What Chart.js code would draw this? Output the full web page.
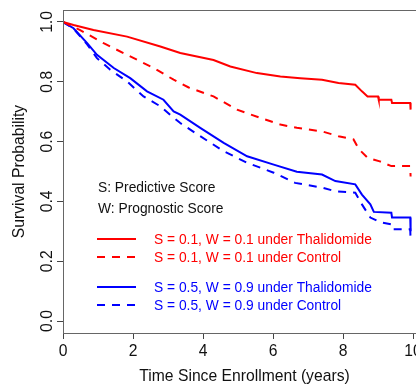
<!DOCTYPE html>
<html>
<head>
<meta charset="utf-8">
<script src="https://cdn.jsdelivr.net/npm/chart.js@4/dist/chart.umd.min.js"></script>
<style>
  html, body { margin: 0; padding: 0; background: #fff; overflow: hidden; }
  #wrap { width: 426px; height: 386px; position: relative; }
</style>
</head>
<body>
<div id="wrap"><canvas id="km"></canvas></div>
<script>
// Kaplan-Meier estimates (time in years, survival probability)
const lowThalTime = [0, 0.3, 0.87, 1.83, 2.78, 3.35, 4.3, 4.78, 5.54, 6.21, 6.78, 7.4, 7.87, 8.35, 8.54, 8.7, 9.0, 9.02, 9.38, 9.4, 9.92, 9.93];
const lowThalSurv = [1, 0.99, 0.973, 0.951, 0.918, 0.896, 0.873, 0.851, 0.829, 0.818, 0.812, 0.807, 0.796, 0.79, 0.768, 0.751, 0.751, 0.74, 0.74, 0.729, 0.729, 0.707];

const lowCtrlTime = [0, 0.49, 1.16, 1.83, 2.59, 3.16, 3.59, 4.3, 4.97, 5.64, 6.21, 6.68, 7.4, 7.87, 8.3, 8.45, 8.7, 9.05, 9.38, 9.92, 9.93];
const lowCtrlSurv = [1, 0.973, 0.929, 0.89, 0.846, 0.807, 0.781, 0.751, 0.707, 0.679, 0.657, 0.646, 0.634, 0.618, 0.607, 0.575, 0.546, 0.534, 0.518, 0.518, 0.483];

const highThalTime = [0, 0.3, 0.69, 0.97, 1.45, 1.92, 2.4, 2.87, 3.16, 3.35, 3.92, 4.59, 5.26, 6.02, 6.68, 7.4, 7.78, 8.35, 8.54, 8.78, 8.88, 9.38, 9.4, 9.92, 9.93];
const highThalSurv = [1, 0.979, 0.929, 0.89, 0.846, 0.812, 0.768, 0.74, 0.701, 0.69, 0.646, 0.596, 0.551, 0.523, 0.499, 0.49, 0.468, 0.457, 0.423, 0.39, 0.365, 0.362, 0.346, 0.346, 0.3];

const highCtrlTime = [0, 0.3, 0.69, 0.97, 1.35, 1.83, 2.3, 2.78, 3.06, 3.35, 3.92, 4.59, 5.26, 6.02, 6.63, 7.4, 7.78, 8.35, 8.54, 8.78, 9.07, 9.38, 9.4, 9.92, 9.93];
const highCtrlSurv = [1, 0.978, 0.925, 0.879, 0.84, 0.801, 0.751, 0.718, 0.69, 0.662, 0.618, 0.568, 0.529, 0.496, 0.462, 0.446, 0.434, 0.429, 0.39, 0.346, 0.33, 0.323, 0.307, 0.307, 0.268];

const xTicks = [0, 2, 4, 6, 8, 10];
const yTicks = [0, 0.2, 0.4, 0.6, 0.8, 1.0];

const seriesLabels = [
  "S = 0.1, W = 0.1 under Thalidomide",
  "S = 0.1, W = 0.1 under Control",
  "S = 0.5, W = 0.9 under Thalidomide",
  "S = 0.5, W = 0.9 under Control"
];
const noteLines = ["S: Predictive Score", "W: Prognostic Score"];

const FONT = '"Liberation Sans", Arial, sans-serif';
const DASH = [8, 7];

function toPoints(ts, ss) {
  return ts.map(function (t, i) { return { x: t, y: ss[i] }; });
}

function makeSet(label, ts, ss, color, dashed) {
  return {
    label: label,
    data: toPoints(ts, ss),
    borderColor: color,
    borderWidth: 2,
    borderDash: dashed ? DASH : [],
    pointRadius: 0,
    tension: 0,
    fill: false
  };
}

// frame, rotated y tick labels, notes and the in-plot legend
const extras = {
  id: "extras",
  afterDraw: function (chart) {
    const ctx = chart.ctx;
    const a = chart.chartArea;
    const ys = chart.scales.y;
    ctx.save();

    ctx.strokeStyle = "#666";
    ctx.lineWidth = 1;
    ctx.strokeRect(a.left + 0.5, a.top + 0.5, a.right - a.left, a.bottom - a.top);

    ctx.fillStyle = "#111";
    ctx.font = "15.7px " + FONT;
    ctx.textAlign = "center";
    ctx.textBaseline = "alphabetic";
    yTicks.forEach(function (v) {
      ctx.save();
      ctx.translate(a.left - 11.3, ys.getPixelForValue(v));
      ctx.rotate(-Math.PI / 2);
      ctx.fillText(v.toFixed(1), 0, 0);
      ctx.restore();
    });

    ctx.font = "13.8px " + FONT;
    ctx.textAlign = "left";
    ctx.textBaseline = "middle";
    ctx.fillStyle = "#111";
    ctx.fillText(noteLines[0], a.left + 35, a.top + 178);
    ctx.fillText(noteLines[1], a.left + 35, a.top + 199);

    const rows = [229, 247, 277, 295];
    chart.data.datasets.forEach(function (ds, i) {
      const y = a.top + rows[i];
      ctx.strokeStyle = ds.borderColor;
      ctx.lineWidth = 2;
      ctx.setLineDash(ds.borderDash);
      ctx.beginPath();
      ctx.moveTo(a.left + 34, y);
      ctx.lineTo(a.left + 73, y);
      ctx.stroke();
      ctx.setLineDash([]);
      ctx.fillStyle = ds.borderColor;
      ctx.fillText(ds.label, a.left + 91, y + 1);
    });

    ctx.restore();
  }
};

new Chart(document.getElementById("km"), {
  type: "line",
  data: {
    datasets: [
      makeSet(seriesLabels[0], lowThalTime, lowThalSurv, "#ff0000", false),
      makeSet(seriesLabels[1], lowCtrlTime, lowCtrlSurv, "#ff0000", true),
      makeSet(seriesLabels[2], highThalTime, highThalSurv, "#0000ff", false),
      makeSet(seriesLabels[3], highCtrlTime, highCtrlSurv, "#0000ff", true)
    ]
  },
  options: {
    responsive: true,
    maintainAspectRatio: false,
    animation: false,
    layout: { padding: { top: 10, right: 0, bottom: 0, left: 0 } },
    plugins: { legend: { display: false }, tooltip: { enabled: false } },
    scales: {
      x: {
        type: "linear",
        min: 0,
        max: 10.37,
        afterBuildTicks: function (scale) {
          scale.ticks = xTicks.map(function (v) { return { value: v }; });
        },
        ticks: { color: "#111", font: { family: FONT, size: 15.7 }, padding: 3, maxRotation: 0 },
        grid: { display: true, drawOnChartArea: false, drawTicks: true, tickLength: 6, color: "#444" },
        border: { display: true, color: "#444" },
        title: {
          display: true,
          text: "Time Since Enrollment (years)",
          color: "#111",
          font: { family: FONT, size: 15.7 },
          padding: { top: 0, bottom: 0 }
        },
        afterFit: function (scale) { scale.height = 53; }
      },
      y: {
        type: "linear",
        min: -0.04,
        max: 1.04,
        afterBuildTicks: function (scale) {
          scale.ticks = yTicks.map(function (v) { return { value: v }; });
        },
        ticks: { display: false },
        grid: { display: true, drawOnChartArea: false, drawTicks: true, tickLength: 6, color: "#444" },
        border: { display: true, color: "#444" },
        title: {
          display: true,
          text: "Survival Probability",
          color: "#111",
          font: { family: FONT, size: 15.7 },
          padding: { top: 10.5, bottom: 0 }
        },
        afterFit: function (scale) { scale.width = 63; }
      }
    }
  },
  plugins: [extras]
});
</script>
</body>
</html>
